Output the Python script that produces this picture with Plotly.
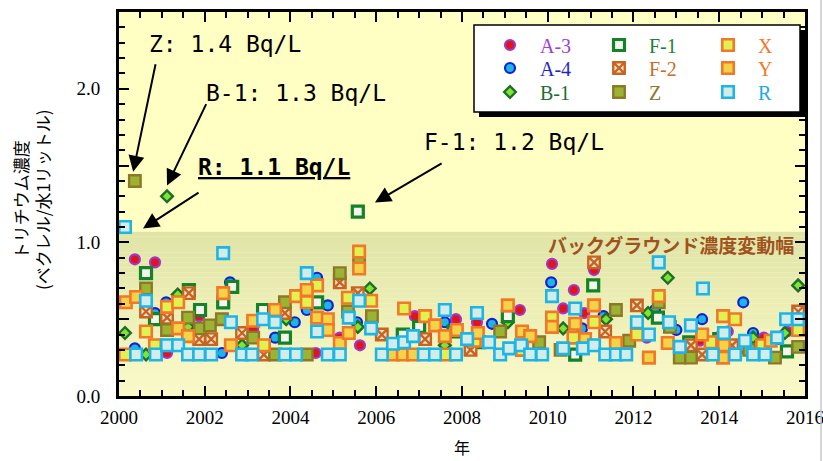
import plotly.graph_objects as go

# ---------------- measurement data: decimal year, tritium (Bq/L) ----------------
a3_year = [2000.37, 2000.84, 2001.12, 2001.87, 2003.13, 2004.59, 2005.15, 2005.62, 2006.90,
           2007.86, 2008.35, 2009.35, 2010.10, 2010.36, 2010.61, 2010.85, 2011.08, 2012.31,
           2013.55, 2014.20, 2015.04, 2015.58]
a3_val = [0.89, 0.87, 0.28, 0.52, 0.44, 0.28, 0.38, 0.33, 0.52,
          0.50, 0.48, 0.56, 0.86, 0.57, 0.69, 0.54, 0.82, 0.38,
          0.36, 0.42, 0.38, 0.42]

a4_year = [2000.37, 2000.84, 2001.10, 2002.40, 2002.59, 2003.64, 2004.10, 2004.38, 2004.62,
           2004.87, 2005.55, 2006.60, 2007.60, 2008.70, 2010.08, 2010.80, 2011.30, 2012.50,
           2013.00, 2013.60, 2014.56, 2014.79, 2015.35]
a4_val = [0.31, 0.54, 0.61, 0.28, 0.74, 0.38, 0.48, 0.56, 0.77,
          0.59, 0.48, 0.40, 0.48, 0.47, 0.74, 0.44, 0.52, 0.56,
          0.43, 0.50, 0.61, 0.41, 0.37]

b1_year = [2000.14, 2000.63, 2001.12, 2001.37, 2001.61, 2002.87, 2003.90, 2005.57, 2005.85,
           2007.60, 2009.07, 2010.36, 2011.36, 2012.34, 2012.80, 2014.79, 2015.53, 2015.84]
b1_val = [0.41, 0.27, 1.3, 0.66, 0.45, 0.33, 0.50, 0.45, 0.70,
          0.33, 0.48, 0.44, 0.50, 0.54, 0.77, 0.38, 0.41, 0.72]

f1_year = [2000.63, 2000.84, 2001.63, 2001.89, 2002.43, 2002.64, 2003.36, 2003.87, 2004.62,
           2005.57, 2006.62, 2007.00, 2007.80, 2008.40, 2009.07, 2010.64, 2011.06, 2012.57,
           2013.30, 2014.00, 2014.50, 2015.58]
f1_val = [0.80, 0.50, 0.69, 0.56, 0.61, 0.71, 0.56, 0.38, 0.61,
          1.2, 0.40, 0.45, 0.42, 0.35, 0.52, 0.27, 0.72, 0.51,
          0.35, 0.37, 0.32, 0.29]

f2_year = [2000.63, 2001.12, 2001.63, 2001.87, 2002.15, 2002.87, 2003.38, 2003.87, 2005.15,
           2005.57, 2006.13, 2007.14, 2008.20, 2011.08, 2011.34, 2012.08, 2013.34, 2013.60,
           2014.30, 2015.84]
f2_val = [0.55, 0.51, 0.67, 0.37, 0.37, 0.41, 0.27, 0.54, 0.74,
          0.67, 0.40, 0.37, 0.30, 0.87, 0.42, 0.59, 0.33, 0.27,
          0.33, 0.55]

z_year = [2000.37, 2000.63, 2001.12, 2001.61, 2001.89, 2002.12, 2002.40, 2003.13, 2003.64,
          2003.87, 2004.38, 2005.15, 2005.34, 2005.60, 2005.90, 2008.89, 2009.80, 2010.30,
          2011.59, 2011.90, 2012.59, 2012.85, 2013.08, 2013.34, 2014.10, 2014.70, 2015.30,
          2015.84]
z_val = [1.4, 0.70, 0.43, 0.51, 0.44, 0.46, 0.50, 0.38, 0.27,
         0.61, 0.27, 0.80, 0.55, 0.89, 0.52, 0.42, 0.35, 0.30,
         0.56, 0.36, 0.61, 0.45, 0.25, 0.25, 0.38, 0.30, 0.25,
         0.32]

x_year = [2000.14, 2000.63, 2000.84, 2001.12, 2001.38, 2003.38, 2004.13, 2004.38, 2004.62,
          2005.34, 2005.60, 2005.88, 2006.65, 2007.14, 2007.63, 2008.30, 2009.40, 2010.10,
          2010.60, 2011.08, 2012.08, 2012.59, 2013.80, 2014.09, 2014.37, 2015.00, 2015.84]
x_val = [0.27, 0.42, 0.33, 0.58, 0.61, 0.33, 0.65, 0.61, 0.72,
         0.64, 0.94, 0.62, 0.57, 0.52, 0.27, 0.36, 0.30, 0.51,
         0.38, 0.48, 0.40, 0.65, 0.35, 0.52, 0.50, 0.33, 0.43]

y_year = [2000.16, 2000.40, 2001.38, 2001.61, 2002.43, 2002.61, 2003.13, 2003.64, 2004.38,
          2004.62, 2004.87, 2004.87, 2005.15, 2005.36, 2005.60, 2006.39, 2006.62, 2006.86,
          2007.37, 2007.60, 2007.88, 2008.37, 2009.07, 2009.40, 2009.59, 2010.10, 2010.64,
          2010.87, 2011.08, 2011.59, 2012.36, 2012.80, 2013.60, 2014.09, 2014.11, 2015.20]
y_val = [0.61, 0.645, 0.44, 0.39, 0.67, 0.33, 0.49, 0.56, 0.69,
         0.51, 0.50, 0.43, 0.345, 0.41, 0.83, 0.27, 0.27, 0.27,
         0.46, 0.39, 0.43, 0.41, 0.59, 0.42, 0.39, 0.45, 0.47,
         0.37, 0.59, 0.345, 0.25, 0.345, 0.40, 0.25, 0.33, 0.36]

r_year = [2000.14, 2000.40, 2000.63, 2000.86, 2001.12, 2001.38, 2001.61, 2001.87, 2002.15,
          2002.43, 2002.61, 2002.87, 2003.10, 2003.36, 2003.64, 2003.87, 2004.13, 2004.38,
          2004.62, 2004.87, 2005.15, 2005.36, 2005.60, 2005.88, 2006.13, 2006.39, 2006.65,
          2006.86, 2007.11, 2007.37, 2007.60, 2007.86, 2008.12, 2008.35, 2008.63, 2008.89,
          2009.10, 2009.38, 2009.59, 2009.87, 2010.10, 2010.36, 2010.64, 2010.82, 2011.08,
          2011.34, 2011.59, 2011.83, 2012.08, 2012.36, 2012.59, 2012.83, 2013.08, 2013.34,
          2013.62, 2013.85, 2014.11, 2014.37, 2014.60, 2014.79, 2015.07, 2015.35, 2015.56,
          2015.84]
r_val = [1.1, 0.27, 0.62, 0.27, 0.33, 0.33, 0.27, 0.27, 0.27,
         0.93, 0.48, 0.27, 0.27, 0.50, 0.48, 0.27, 0.27, 0.80,
         0.42, 0.27, 0.27, 0.51, 0.62, 0.44, 0.27, 0.34, 0.35,
         0.39, 0.27, 0.27, 0.56, 0.27, 0.37, 0.54, 0.35, 0.27,
         0.31, 0.33, 0.27, 0.27, 0.65, 0.31, 0.57, 0.31, 0.33,
         0.27, 0.27, 0.27, 0.48, 0.40, 0.87, 0.48, 0.32, 0.46,
         0.70, 0.27, 0.41, 0.27, 0.36, 0.27, 0.27, 0.38, 0.50,
         0.50]

# upper limit of the normal background range (Bq/L)
BAND_TOP = 1.07

x_ticks = [2000, 2002, 2004, 2006, 2008, 2010, 2012, 2014, 2016]
y_tickvals = [0.0, 0.5, 1.0, 1.5, 2.0, 2.5]
y_ticktext = ["0.0", "", "1.0", "", "2.0", ""]

# ---------------- figure geometry (pixels) ----------------
W, H = 823, 461
ML, MR, MT, MB = 119, 18, 12, 65
PW, PH = W - ML - MR, H - MT - MB


def pxx(px):
    return (px - ML) / PW


def pxy(py):
    return (H - MB - py) / PH


SERIF = "Liberation Serif"
GOTHIC = "Noto Sans CJK JP"
MONO = "DejaVu Sans Mono"

# marker styles: symbol, size, fill, edge, edge width, label colour
styles = {
    "A-3": dict(symbol="circle", size=10, fill="#e0141e", edge="#a038c8", lw=2.2, txt="#a040d8"),
    "A-4": dict(symbol="circle", size=10, fill="#1eb4e6", edge="#1420d2", lw=2.2, txt="#1e28c8"),
    "B-1": dict(symbol="diamond", size=9, fill="#7ee632", edge="#1e6e28", lw=2.4, txt="#1e6e32"),
    "F-1": dict(symbol="square", size=11, fill="#f4f6ee", edge="#148228", lw=3.2, txt="#1e8232"),
    "F-2": dict(symbol="square-x", size=11.5, fill="#f2e6cc", edge="#c86420", lw=2.4, txt="#c86e28"),
    "Z": dict(symbol="square", size=11.5, fill="#9ab432", edge="#8c7828", lw=2.4, txt="#8c7828"),
    "X": dict(symbol="square", size=11.5, fill="#e2f050", edge="#f07828", lw=2.6, txt="#f07828"),
    "Y": dict(symbol="square", size=11.5, fill="#f6d246", edge="#f07828", lw=2.6, txt="#f07828"),
    "R": dict(symbol="square", size=11.5, fill="#d2ecea", edge="#1eb4e6", lw=2.6, txt="#1eaae6"),
}

# legend rows: row 1 = A-3, F-1, X; row 2 = A-4, F-2, Y; row 3 = B-1, Z, R
series = [
    ("A-3", a3_year, a3_val, "legend", 1),
    ("A-4", a4_year, a4_val, "legend2", 1),
    ("B-1", b1_year, b1_val, "legend3", 1),
    ("F-1", f1_year, f1_val, "legend", 2),
    ("F-2", f2_year, f2_val, "legend2", 2),
    ("Z", z_year, z_val, "legend3", 2),
    ("X", x_year, x_val, "legend", 3),
    ("Y", y_year, y_val, "legend2", 3),
    ("R", r_year, r_val, "legend3", 3),
]

fig = go.Figure()
for name, xs, ys, leg, rank in series:
    s = styles[name]
    fig.add_trace(go.Scatter(
        x=xs, y=ys, mode="markers", name=f'<span style="color:{s["txt"]}">{name}</span>',
        legend=leg, legendrank=rank,
        marker=dict(symbol=s["symbol"], size=s["size"], color=s["fill"],
                    line=dict(color=s["edge"], width=s["lw"])),
    ))

# background band drawn as a vertical gradient
shapes = []
n_steps = 32
top_rgb = (224, 228, 166)
bot_rgb = (250, 250, 202)
for i in range(n_steps):
    t = (i + 0.5) / n_steps
    c = tuple(round(bot_rgb[k] + (top_rgb[k] - bot_rgb[k]) * t) for k in range(3))
    shapes.append(dict(type="rect", xref="paper", yref="y", x0=0, x1=1,
                       y0=BAND_TOP * i / n_steps, y1=BAND_TOP * (i + 1) / n_steps,
                       fillcolor=f"rgb{c}", line=dict(width=0), layer="below"))

# legend frame with drop shadow
shapes.append(dict(type="rect", xref="paper", yref="paper",
                   x0=pxx(479), x1=pxx(805), y0=pxy(117), y1=pxy(30),
                   fillcolor="black", line=dict(width=0), layer="above"))
shapes.append(dict(type="rect", xref="paper", yref="paper",
                   x0=pxx(474), x1=pxx(800), y0=pxy(112), y1=pxy(25),
                   fillcolor="white", line=dict(color="black", width=1.5), layer="above"))
# thin frame line at the right edge of the page
shapes.append(dict(type="line", xref="paper", yref="paper",
                   x0=pxx(821), x1=pxx(821), y0=pxy(0), y1=pxy(461),
                   line=dict(color="#c8c8c8", width=1.5), layer="above"))

annotations = []
callout_font = dict(family=MONO, size=23, color="black")
annotations.append(dict(x=2000.66, y=2.29, xref="x", yref="y", text="Z: 1.4 Bq/L",
                        showarrow=False, xanchor="left", yanchor="middle", font=callout_font))
annotations.append(dict(x=2001.99, y=1.97, xref="x", yref="y", text="B-1: 1.3 Bq/L",
                        showarrow=False, xanchor="left", yanchor="middle", font=callout_font))
annotations.append(dict(x=2001.80, y=1.49, xref="x", yref="y", text="<b><u>R: 1.1 Bq/L</u></b>",
                        showarrow=False, xanchor="left", yanchor="middle", font=callout_font))
annotations.append(dict(x=2007.07, y=1.655, xref="x", yref="y", text="F-1: 1.2 Bq/L",
                        showarrow=False, xanchor="left", yanchor="middle", font=callout_font))

arrow_style = dict(showarrow=True, arrowhead=2, arrowsize=1.6, arrowwidth=2, arrowcolor="black",
                   axref="x", ayref="y", xref="x", yref="y", text="", standoff=0, startstandoff=0)
annotations.append(dict(x=2000.33, y=1.46, ax=2000.86, ay=2.17, **arrow_style))
annotations.append(dict(x=2001.12, y=1.37, ax=2002.05, ay=1.91, **arrow_style))
annotations.append(dict(x=2000.56, y=1.09, ax=2001.89, ay=1.33, **arrow_style))
annotations.append(dict(x=2005.97, y=1.26, ax=2007.56, ay=1.52, **arrow_style))

annotations.append(dict(x=1, y=0.985, xref="paper", yref="y", xanchor="right", yanchor="middle",
                        text="<b>バックグラウンド濃度変動幅</b>", showarrow=False, xshift=-9,
                        font=dict(family=GOTHIC, size=19, color="#a0521e")))

annotations.append(dict(x=pxx(31), y=pxy(200), xref="paper", yref="paper",
                        text="トリチウム濃度<br>(ベクレル/水1リットル)", textangle=-90,
                        showarrow=False, xanchor="center", yanchor="middle",
                        font=dict(family=GOTHIC, size=17, color="black")))
annotations.append(dict(x=pxx(462), y=pxy(447), xref="paper", yref="paper", text="年",
                        showarrow=False, xanchor="center", yanchor="middle",
                        font=dict(family=GOTHIC, size=16, color="black")))

legend_common = dict(orientation="h", bgcolor="rgba(0,0,0,0)", borderwidth=0,
                     font=dict(family=SERIF, size=20), itemwidth=50,
                     entrywidth=44, entrywidthmode="pixels", traceorder="normal",
                     xanchor="left", yanchor="middle", itemclick=False)

fig.update_layout(
    width=W, height=H,
    margin=dict(l=ML, r=MR, t=MT, b=MB, pad=0, autoexpand=False),
    paper_bgcolor="white",
    plot_bgcolor="#ffffc4",
    showlegend=True,
    legend=dict(x=pxx(480), y=pxy(45), **legend_common),
    legend2=dict(x=pxx(480), y=pxy(68), **legend_common),
    legend3=dict(x=pxx(480), y=pxy(92), **legend_common),
    shapes=shapes,
    annotations=annotations,
    xaxis=dict(range=[2000, 2016.0005], tickvals=x_ticks, ticks="inside", ticklen=10, tickwidth=2,
               tickcolor="black", showline=True, linecolor="black", linewidth=3, mirror="allticks",
               showgrid=False, zeroline=False, tickfont=dict(family=SERIF, size=19, color="black"),
               ticklabelstandoff=2, ticklabeloverflow="allow", automargin=False,
               minor=dict(dtick=0.5, ticks="inside", ticklen=6, tickwidth=2, tickcolor="black",
                          showgrid=False)),
    yaxis=dict(range=[0, 2.5], tickvals=y_tickvals, ticktext=y_ticktext, ticks="inside",
               ticklen=10, tickwidth=2, tickcolor="black", showline=True, linecolor="black",
               linewidth=3, mirror="allticks", showgrid=False, zeroline=False, automargin=False,
               tickfont=dict(family=SERIF, size=19, color="black"), ticklabelstandoff=12,
               minor=dict(dtick=0.1, ticks="inside", ticklen=6, tickwidth=2, tickcolor="black",
                          showgrid=False)),
)

fig.write_html("out.html")
